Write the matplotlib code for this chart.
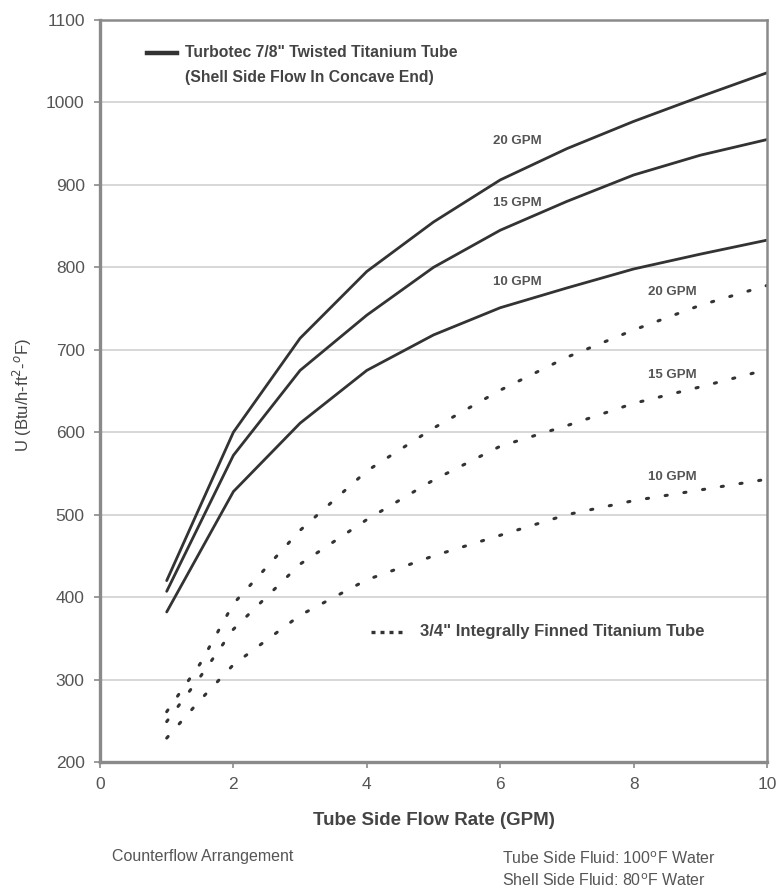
import matplotlib
matplotlib.use("Agg")
import matplotlib.pyplot as plt
from matplotlib.lines import Line2D

plt.rcParams['font.family'] = ['Liberation Sans', 'DejaVu Sans']

# tube side flow rate (GPM)
flow = [1, 2, 3, 4, 5, 6, 7, 8, 9, 10]

# Turbotec 7/8" twisted titanium tube, U by shell side flow
turbotec_20 = [420, 600, 714, 795, 855, 906, 944, 977, 1007, 1036]
turbotec_15 = [407, 572, 675, 742, 800, 845, 880, 912, 936, 955]
turbotec_10 = [382, 528, 611, 675, 718, 751, 775, 798, 816, 833]

# 3/4" integrally finned titanium tube
finned_flow = [1, 1.5, 2, 3, 4, 5, 6, 7, 8, 9, 10]
finned_20 = [261, 319, 392, 481, 553, 605, 651, 691, 724, 754, 778]
finned_15 = [249, 303, 361, 440, 494, 542, 583, 608, 635, 655, 676]
finned_10 = [229, 275, 318, 378, 421, 450, 475, 500, 517, 530, 543]

x_ticks = [0, 2, 4, 6, 8, 10]
y_ticks = [200, 300, 400, 500, 600, 700, 800, 900, 1000, 1100]

line_col = '#333333'
text_col = '#444444'

fig = plt.figure(figsize=(7.83, 8.93), dpi=100)
ax = fig.add_axes([0.1277, 0.1467, 0.8519, 0.8309])

for ys in (turbotec_20, turbotec_15, turbotec_10):
    ax.plot(flow, ys, color=line_col, lw=2.0, solid_capstyle='round')

for ys in (finned_20, finned_15, finned_10):
    ax.plot(finned_flow, ys, color=line_col, lw=2.2, dashes=(0.7, 5.5),
            dash_capstyle='round')

ax.set_xlim(0, 10)
ax.set_ylim(200, 1100)
ax.set_xticks(x_ticks)
ax.set_yticks(y_ticks)
ax.yaxis.grid(True, color='#d4d4d4', lw=1.3)
ax.set_axisbelow(True)
for s in ax.spines.values():
    s.set_color('#8a8a8a')
    s.set_linewidth(1.8)
ax.spines['left'].set_linewidth(2.4)
ax.spines['bottom'].set_linewidth(2.4)
ax.tick_params(colors='#8a8a8a', labelcolor='#555555', labelsize=12.5,
               length=4, width=1.2, pad=7)

ax.set_xlabel('Tube Side Flow Rate (GPM)', fontsize=13.5, fontweight='bold',
              color=text_col, labelpad=14)
fig.text(22 / 783, 1 - 395 / 893, 'U (Btu/h-ft$^2$-$^o$F)', fontsize=12,
         color=text_col, rotation=90, ha='center', va='center')

# legend entries drawn as in the original chart
ax.add_line(Line2D([0.7, 1.15], [1060, 1060], color=line_col, lw=3.2))
ax.text(1.27, 1060, 'Turbotec 7/8" Twisted Titanium Tube', fontsize=11.3,
        fontweight='bold', color=text_col, va='center')
ax.text(1.27, 1030, '(Shell Side Flow In Concave End)', fontsize=11.3,
        fontweight='bold', color=text_col, va='center')

ax.add_line(Line2D([4.06, 4.55], [358, 358], color=line_col, lw=2.4,
                   dashes=(1.2, 1.5)))
ax.text(4.8, 358, '3/4" Integrally Finned Titanium Tube', fontsize=12,
        fontweight='bold', color=text_col, va='center')

# curve labels
lab_kw = dict(fontsize=9.5, fontweight='bold', color='#555555', va='center')
ax.text(5.89, 953, '20 GPM', **lab_kw)
ax.text(5.89, 878, '15 GPM', **lab_kw)
ax.text(5.89, 782, '10 GPM', **lab_kw)
ax.text(8.22, 770, '20 GPM', **lab_kw)
ax.text(8.22, 669, '15 GPM', **lab_kw)
ax.text(8.22, 546, '10 GPM', **lab_kw)

foot_kw = dict(fontsize=11.5, color='#555555', va='center')
fig.text(112 / 783, 1 - 857 / 893, 'Counterflow Arrangement', **foot_kw)
fig.text(502 / 783, 1 - 859 / 893, 'Tube Side Fluid: 100$^{\\mathrm{o}}$F Water',
         **foot_kw)
fig.text(502 / 783, 1 - 881 / 893, 'Shell Side Fluid: 80$^{\\mathrm{o}}$F Water',
         **foot_kw)

fig.savefig('out.png', dpi=100, facecolor='white')
